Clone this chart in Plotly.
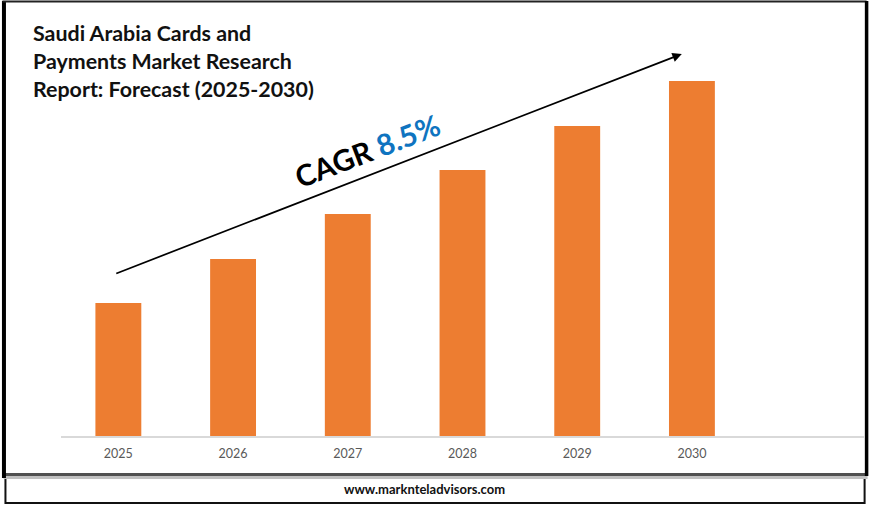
import plotly.graph_objects as go

years = ["2025", "2026", "2027", "2028", "2029", "2030"]
values = [133, 177, 222, 266, 310, 355]
title_lines = ["Saudi Arabia Cards and", "Payments Market Research", "Report: Forecast (2025-2030)"]

W, H = 870, 506
L, R, T, B = 60.6, 864.4, 10, 436


def px(x):
    return (x - L) / (R - L)


def py(y):
    return (B - y) / (B - T)


def rect(x0, y0, x1, y1, fill, line=None, lw=0):
    return dict(type="rect", xref="paper", yref="paper", x0=px(x0), x1=px(x1), y0=py(y0), y1=py(y1),
                fillcolor=fill, line=dict(color=line or fill, width=lw), layer="below")


def seg(x0, y0, x1, y1, color, lw):
    return dict(type="line", xref="paper", yref="paper", x0=px(x0), x1=px(x1), y0=py(y0), y1=py(y1),
                line=dict(color=color, width=lw), layer="below")


shapes = [
    rect(5, 476, 865, 503, "#ffffff", "#111111", 2),
    seg(3, 477, 868, 477, "#c0c0c0", 4),
    seg(3, 474.5, 868, 474.5, "#505050", 3),
    seg(3.5, 1, 3.5, 478, "#000000", 4),
    seg(2, 1.5, 867, 1.5, "#222222", 2),
    seg(867, 1, 867, 476, "#000000", 3.5),
]

annotations = [
    dict(x=px(31), y=py(yc), xref="paper", yref="paper", xanchor="left", yanchor="middle", showarrow=False,
         text=f"<b>{line}</b>", font=dict(family="Lato", size=21.4, color="#111111"))
    for line, yc in zip(title_lines, [33, 61, 89])
] + [
    dict(x=px(682), y=py(54), ax=115 - 682, ay=274 - 54, xref="paper", yref="paper", axref="pixel", ayref="pixel",
         text="", showarrow=True, arrowhead=2, arrowsize=1.1, arrowwidth=1.7, arrowcolor="#000000"),
    dict(x=px(367), y=py(150), xref="paper", yref="paper", xanchor="center", yanchor="middle", showarrow=False,
         textangle=-21, text='<b>CAGR <span style="color:#0f74c0">8.5%</span></b>',
         font=dict(family="Lato", size=29.5, color="#000000")),
    dict(x=px(424), y=py(489), xref="paper", yref="paper", xanchor="center", yanchor="middle", showarrow=False,
         text="<b>www.marknteladvisors.com</b>",
         font=dict(family="Lato", size=13, color="#111111")),
]

fig = go.Figure(go.Bar(x=years, y=values, marker=dict(color="#ed7d31", line=dict(width=0)), hoverinfo="skip"))
fig.update_layout(
    width=W, height=H, margin=dict(l=L, r=W - R, t=T, b=H - B, pad=0),
    paper_bgcolor="#ffffff", plot_bgcolor="#ffffff", bargap=0.6, showlegend=False,
    shapes=shapes, annotations=annotations,
)
fig.update_xaxes(type="category", range=[-0.5, 6.5], showgrid=False, showline=True, linecolor="#d9d9d9",
                 linewidth=1.5, ticks="", ticklabelstandoff=5,
                 tickfont=dict(family="Lato", size=12.5, color="#595959"))
fig.update_yaxes(range=[0, 426], visible=False, showgrid=False, zeroline=False)
fig.write_html("out.html", config=dict(displayModeBar=False),
               post_script="document.body.style.margin='0';document.documentElement.style.overflow='hidden';")
